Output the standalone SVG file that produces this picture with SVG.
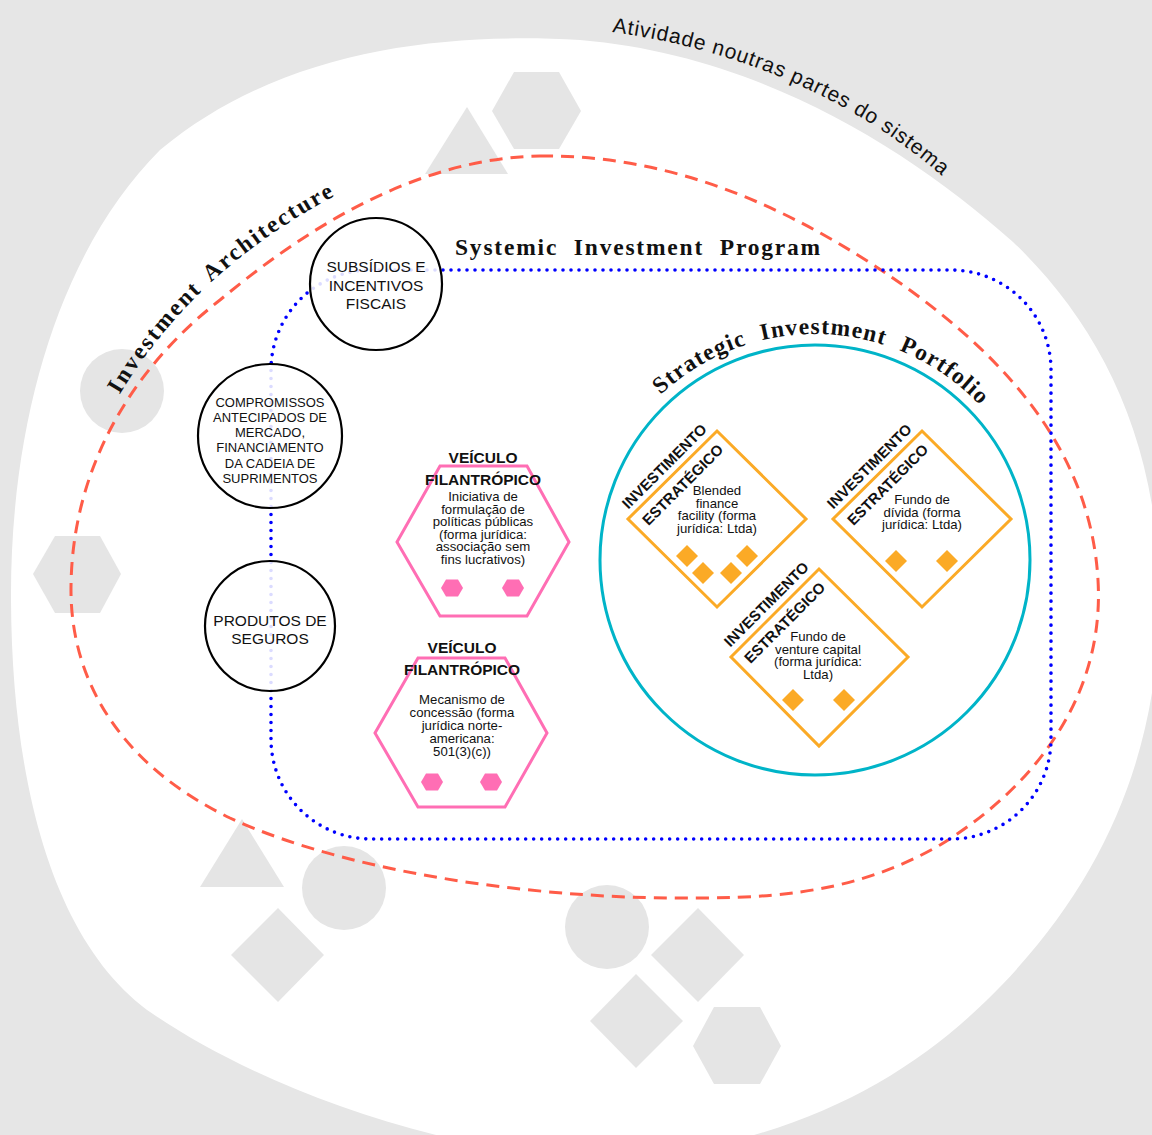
<svg xmlns="http://www.w3.org/2000/svg" xmlns:xlink="http://www.w3.org/1999/xlink" width="1152" height="1135" viewBox="0 0 1152 1135">
<style>
.bgshape{fill:#e5e5e5;stroke:none}
.node-circle{fill:#ffffff;fill-opacity:0.86;stroke:#000000;stroke-width:2.2}
.hex{fill:#ffffff;stroke:#ff6eb4;stroke-width:3}
.hexdot{fill:#ff6eb4}
.dia{fill:#ffffff;stroke:#fbaa26;stroke-width:3}
.diadot{fill:#fbaa26}
.sans{font-family:"Liberation Sans",Arial,sans-serif;fill:#111111}
.cap{font-size:13px;text-anchor:middle}
.cap15{font-size:15.5px;text-anchor:middle}
.head{font-size:15.5px;font-weight:bold;text-anchor:middle}
.body{font-size:13.2px;text-anchor:middle}
.lbl{font-size:15px;font-weight:bold;text-anchor:middle}
.serif{font-family:"Liberation Serif","Times New Roman",serif;font-weight:bold;font-size:23.5px;fill:#111111}
.arch{fill:none;stroke:#ff5c48;stroke-width:3;stroke-dasharray:13 8}
.prog{fill:none;stroke:#0000ff;stroke-width:3.6;stroke-dasharray:0 8;stroke-linecap:round}
.port{fill:none;stroke:#00b4c8;stroke-width:3}
</style>
<defs>
<path id="smallhex" d="M-11 0 L-6 -8.5 L6 -8.5 L11 0 L6 8.5 L-6 8.5 Z"/>
<path id="smalldia" d="M0 -11 L11 0 L0 11 L-11 0 Z"/>
<path id="pathAtiv" d="M 612 32 C 730 48, 875 98, 990 222"/>
<path id="pathArch" d="M 112 408 Q 190 268, 350 188"/>
<path id="pathPort" d="M 623.4 440.2 A 226 226 0 0 1 1014.5 453.9"/>
</defs>

<rect x="0" y="0" width="1152" height="1135" fill="#e6e6e6"/>
<path id="system" d="M 580 40 C 760 55, 910 150, 1013 242 C 1090 315, 1150 420, 1158 560 C 1168 720, 1120 870, 987 1000 C 900 1085, 780 1150, 600 1160 C 420 1150, 250 1080, 153 1014 C 60 950, 12 800, 11 600 C 10 420, 60 250, 160 150 C 280 50, 440 32, 580 40 Z" fill="#ffffff"/>

<text class="sans" font-size="21" letter-spacing="0.9"><textPath href="#pathAtiv">Atividade noutras partes do sistema</textPath></text>

<g id="background-shapes">
<polygon class="bgshape" points="467,107 508,174 425,174"/>
<polygon class="bgshape" points="514,72 559,72 581,111 559,149 514,149 492,111"/>
<circle class="bgshape" cx="122" cy="391" r="42"/>
<polygon class="bgshape" points="55,536 100,536 121,574 100,613 55,613 33,574"/>
<polygon class="bgshape" points="242,819 284,887 200,887"/>
<circle class="bgshape" cx="344" cy="888" r="42"/>
<polygon class="bgshape" points="278,908 324,955 278,1002 231,955"/>
<circle class="bgshape" cx="607" cy="927" r="42"/>
<polygon class="bgshape" points="698,908 744,955 698,1002 651,955"/>
<polygon class="bgshape" points="636,974 683,1021 636,1068 590,1021"/>
<polygon class="bgshape" points="714,1007 760,1007 781,1046 760,1084 714,1084 693,1046"/>
</g>

<g id="connectors">
<path id="investment-architecture-boundary" class="arch" d="M 540 156 C 680 154, 800 215, 890 276 C 990 345, 1090 440, 1098 580 C 1105 700, 1030 790, 940 845 C 870 885, 800 898, 700 898 C 560 900, 360 878, 230 818 C 120 765, 70 680, 71 587 C 72 470, 130 370, 220 300 C 310 225, 420 158, 540 156 Z"/>
<rect id="systemic-program-boundary" class="prog" x="271" y="270" width="780" height="569" rx="100" ry="100"/>
</g>

<g id="title-architecture">
<text class="serif" letter-spacing="2.2" word-spacing="4"><textPath href="#pathArch" startOffset="50%" text-anchor="middle">Investment Architecture</textPath></text>
</g>
<g id="title-program">
<text class="serif" x="455" y="255" letter-spacing="1.8" word-spacing="8">Systemic Investment Program</text>
</g>

<g id="node-subsidios">
<circle class="node-circle" cx="376" cy="284" r="66"/>
<text class="sans cap15"><tspan x="376" y="272">SUBSÍDIOS E</tspan><tspan x="376" y="290.5">INCENTIVOS</tspan><tspan x="376" y="309">FISCAIS</tspan></text>
</g>
<g id="node-compromissos">
<circle class="node-circle" cx="270" cy="436" r="72"/>
<text class="sans cap"><tspan x="270" y="406.7">COMPROMISSOS</tspan><tspan x="270" y="421.9">ANTECIPADOS DE</tspan><tspan x="270" y="437.1">MERCADO,</tspan><tspan x="270" y="452.3">FINANCIAMENTO</tspan><tspan x="270" y="467.5">DA CADEIA DE</tspan><tspan x="270" y="482.7">SUPRIMENTOS</tspan></text>
</g>
<g id="node-seguros">
<circle class="node-circle" cx="270" cy="626" r="65"/>
<text class="sans cap15"><tspan x="270" y="626">PRODUTOS DE</tspan><tspan x="270" y="644">SEGUROS</tspan></text>
</g>

<g id="node-veiculo-1">
<polygon class="hex" points="440,466 527,466 569,542 527,616 440,616 397,542"/>
<use href="#smallhex" class="hexdot" x="452" y="588"/>
<use href="#smallhex" class="hexdot" x="513" y="588"/>
<text class="sans head"><tspan x="483" y="463">VEÍCULO</tspan><tspan x="483" y="485">FILANTRÓPICO</tspan></text>
<text class="sans body"><tspan x="483" y="501">Iniciativa de</tspan><tspan x="483" y="513.6">formulação de</tspan><tspan x="483" y="526.2">políticas públicas</tspan><tspan x="483" y="538.8">(forma jurídica:</tspan><tspan x="483" y="551.4">associação sem</tspan><tspan x="483" y="564">fins lucrativos)</tspan></text>
</g>
<g id="node-veiculo-2">
<polygon class="hex" points="418,658 505,658 547,733 505,807 418,807 375,733"/>
<use href="#smallhex" class="hexdot" x="432" y="782"/>
<use href="#smallhex" class="hexdot" x="491" y="782"/>
<text class="sans head"><tspan x="462" y="653">VEÍCULO</tspan><tspan x="462" y="675">FILANTRÓPICO</tspan></text>
<text class="sans body"><tspan x="462" y="704">Mecanismo de</tspan><tspan x="462" y="717">concessão (forma</tspan><tspan x="462" y="730">jurídica norte-</tspan><tspan x="462" y="743">americana:</tspan><tspan x="462" y="756">501(3)(c))</tspan></text>
</g>

<g id="node-portfolio">
<circle class="port" cx="815" cy="560" r="215"/>
<text class="serif" letter-spacing="1.2" word-spacing="8"><textPath href="#pathPort" startOffset="50%" text-anchor="middle">Strategic Investment Portfolio</textPath></text>
</g>

<g id="node-invest-1">
<polygon class="dia" points="717,431 806,519 717,607 628,519"/>
<use href="#smalldia" class="diadot" x="687" y="556"/>
<use href="#smalldia" class="diadot" x="703" y="573"/>
<use href="#smalldia" class="diadot" x="731" y="573"/>
<use href="#smalldia" class="diadot" x="747" y="556"/>
<text class="sans lbl" transform="translate(668,470) rotate(-45)">INVESTIMENTO</text>
<text class="sans lbl" transform="translate(686.4,488.4) rotate(-45)">ESTRATÉGICO</text>
<text class="sans body"><tspan x="717" y="495">Blended</tspan><tspan x="717" y="507.7">finance</tspan><tspan x="717" y="520.4">facility (forma</tspan><tspan x="717" y="533">jurídica: Ltda)</tspan></text>
</g>
<g id="node-invest-2">
<polygon class="dia" points="922,431 1011,519 922,607 833,519"/>
<use href="#smalldia" class="diadot" x="896" y="561"/>
<use href="#smalldia" class="diadot" x="947" y="561"/>
<text class="sans lbl" transform="translate(873,470) rotate(-45)">INVESTIMENTO</text>
<text class="sans lbl" transform="translate(891.4,488.4) rotate(-45)">ESTRATÉGICO</text>
<text class="sans body"><tspan x="922" y="504">Fundo de</tspan><tspan x="922" y="516.5">dívida (forma</tspan><tspan x="922" y="529">jurídica: Ltda)</tspan></text>
</g>
<g id="node-invest-3">
<polygon class="dia" points="819,569 908,657 819,746 731,657"/>
<use href="#smalldia" class="diadot" x="793" y="700"/>
<use href="#smalldia" class="diadot" x="844" y="700"/>
<text class="sans lbl" transform="translate(770,608) rotate(-45)">INVESTIMENTO</text>
<text class="sans lbl" transform="translate(788.4,626.4) rotate(-45)">ESTRATÉGICO</text>
<text class="sans body"><tspan x="818" y="641">Fundo de</tspan><tspan x="818" y="653.7">venture capital</tspan><tspan x="818" y="666.4">(forma jurídica:</tspan><tspan x="818" y="679">Ltda)</tspan></text>
</g>
</svg>
